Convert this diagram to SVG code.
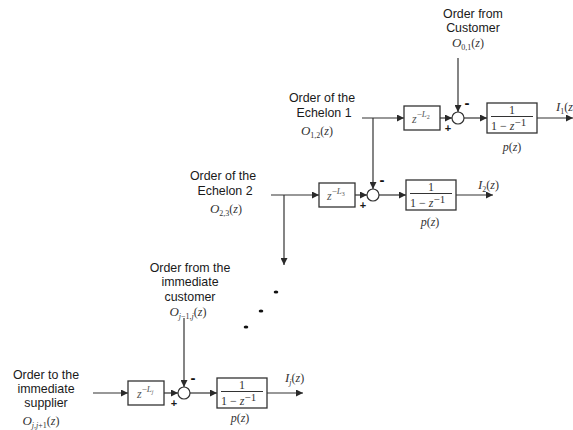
<svg xmlns="http://www.w3.org/2000/svg" width="573" height="430" viewBox="0 0 573 430">
  <defs>
    <marker id="arr" markerUnits="userSpaceOnUse" markerWidth="8" markerHeight="7" refX="7" refY="3.5" orient="auto">
      <path d="M0,0 L7,3.5 L0,7 z" fill="#2a2a2a"/>
    </marker>
    <style>
      .lbl { font-family: "Liberation Sans", Arial, sans-serif; font-size: 12.4px; fill: #1a1a1a; text-anchor: middle; }
      .m { font-family: "Liberation Serif", "Times New Roman", serif; font-size: 12px; fill: #333; }
      .it { font-style: italic; }
      .sub { font-size: 8px; }
      .box { fill: #fff; stroke: #333; stroke-width: 1.3; }
      .ln { stroke: #333; stroke-width: 1.2; fill: none; }
      .bar { stroke: #333; stroke-width: 1; }
      .sum { fill: #fff; stroke: #333; stroke-width: 1.2; }
      .minus { font-family: "Liberation Sans", Arial, sans-serif; font-weight: bold; font-size: 15px; fill: #111; text-anchor: middle; }
      .plus { font-family: "Liberation Sans", Arial, sans-serif; font-weight: bold; font-size: 11px; fill: #1a1a1a; text-anchor: middle; }
      .dly { font-family: "Liberation Serif", "Times New Roman", serif; font-size: 12px; fill: #555; }
      .dot { fill: #111; }
    </style>
  </defs>

  <!-- signal lines -->
  <g id="connectors">
    <!-- stage 1 -->
    <path class="ln" d="M458,58 V112" marker-end="url(#arr)"/>
    <path class="ln" d="M362,118 H404" marker-end="url(#arr)"/>
    <path class="ln" d="M440,118 H452" marker-end="url(#arr)"/>
    <path class="ln" d="M464,118 H487" marker-end="url(#arr)"/>
    <path class="ln" d="M537,118 H573" marker-end="url(#arr)"/>
    <path class="ln" d="M373,118 V189" marker-end="url(#arr)"/>
    <!-- stage 2 -->
    <path class="ln" d="M271,195 H319" marker-end="url(#arr)"/>
    <path class="ln" d="M355,195 H367" marker-end="url(#arr)"/>
    <path class="ln" d="M379,195 H406" marker-end="url(#arr)"/>
    <path class="ln" d="M456,195 H493" marker-end="url(#arr)"/>
    <path class="ln" d="M284,195 V265" marker-end="url(#arr)"/>
    <!-- stage j -->
    <path class="ln" d="M184,318 V387" marker-end="url(#arr)"/>
    <path class="ln" d="M93,393 H128" marker-end="url(#arr)"/>
    <path class="ln" d="M164,393 H178" marker-end="url(#arr)"/>
    <path class="ln" d="M190,393 H217" marker-end="url(#arr)"/>
    <path class="ln" d="M267,393 H303" marker-end="url(#arr)"/>
  </g>

  <!-- continuation dots -->
  <g id="ellipsis">
    <ellipse class="dot" cx="276" cy="292" rx="2.3" ry="1.5"/>
    <ellipse class="dot" cx="261" cy="311" rx="2.3" ry="1.5"/>
    <ellipse class="dot" cx="246" cy="327" rx="2.3" ry="1.5"/>
  </g>

  <!-- ===== stage 1 ===== -->
  <g id="customer-order">
    <text class="lbl" x="473" y="18">Order from</text>
    <text class="lbl" x="473" y="32">Customer</text>
    <text class="m" x="468" y="47" text-anchor="middle"><tspan class="it" font-size="13">O</tspan><tspan class="sub" dy="3">0,1</tspan><tspan dy="-3">(</tspan><tspan class="it">z</tspan>)</text>
  </g>

  <g id="echelon1-order">
    <text class="lbl" x="322" y="101.5">Order of the</text>
    <text class="lbl" x="324" y="116.5">Echelon 1</text>
    <text class="m" x="317" y="135" text-anchor="middle"><tspan class="it" font-size="13">O</tspan><tspan class="sub" dy="3">1,2</tspan><tspan dy="-3">(</tspan><tspan class="it">z</tspan>)</text>
  </g>

  <g id="delay-1">
    <rect class="box" x="404" y="106" width="36" height="24"/>
    <text class="dly" x="412" y="123"><tspan class="it">z</tspan><tspan font-size="9" dy="-6">−</tspan><tspan class="it" font-size="9">L</tspan><tspan font-size="6" dy="2">2</tspan></text>
  </g>

  <g id="sum-1">
    <circle class="sum" cx="458" cy="118" r="6"/>
    <text class="minus" x="467" y="108">-</text>
    <text class="plus" x="448" y="132">+</text>
  </g>

  <g id="inventory-1">
    <rect class="box" x="487" y="103" width="50" height="30"/>
    <text class="m" x="512" y="114" text-anchor="middle">1</text>
    <line class="bar" x1="491" y1="116.5" x2="533" y2="116.5"/>
    <text class="m" x="491" y="130">1 − <tspan class="it">z</tspan><tspan font-size="11" dy="-4">−1</tspan></text>
    <text class="m" x="512" y="151" text-anchor="middle"><tspan class="it">p</tspan>(<tspan class="it">z</tspan>)</text>
  </g>

  <g id="output-1">
    <text class="m" x="556" y="111"><tspan class="it" font-size="13">I</tspan><tspan class="sub" dy="3">1</tspan><tspan dy="-3">(</tspan><tspan class="it">z</tspan></text>
  </g>

  <!-- ===== stage 2 ===== -->
  <g id="echelon2-order">
    <text class="lbl" x="223" y="179.5">Order of the</text>
    <text class="lbl" x="225" y="194.5">Echelon 2</text>
    <text class="m" x="226" y="213" text-anchor="middle"><tspan class="it" font-size="13">O</tspan><tspan class="sub" dy="3">2,3</tspan><tspan dy="-3">(</tspan><tspan class="it">z</tspan>)</text>
  </g>

  <g id="delay-2">
    <rect class="box" x="319" y="183" width="36" height="24"/>
    <text class="dly" x="327" y="200"><tspan class="it">z</tspan><tspan font-size="9" dy="-6">−</tspan><tspan class="it" font-size="9">L</tspan><tspan font-size="6" dy="2">3</tspan></text>
  </g>

  <g id="sum-2">
    <circle class="sum" cx="373" cy="195" r="6"/>
    <text class="minus" x="382" y="185">-</text>
    <text class="plus" x="363" y="209">+</text>
  </g>

  <g id="inventory-2">
    <rect class="box" x="406" y="180" width="50" height="30"/>
    <text class="m" x="431" y="191" text-anchor="middle">1</text>
    <line class="bar" x1="410" y1="193.5" x2="452" y2="193.5"/>
    <text class="m" x="410" y="207">1 − <tspan class="it">z</tspan><tspan font-size="11" dy="-4">−1</tspan></text>
    <text class="m" x="430" y="226" text-anchor="middle"><tspan class="it">p</tspan>(<tspan class="it">z</tspan>)</text>
  </g>

  <g id="output-2">
    <text class="m" x="478" y="189"><tspan class="it" font-size="13">I</tspan><tspan class="sub" dy="3">2</tspan><tspan dy="-3">(</tspan><tspan class="it">z</tspan>)</text>
  </g>

  <!-- ===== stage j ===== -->
  <g id="customer-j-order">
    <text class="lbl" x="190" y="271.5">Order from the</text>
    <text class="lbl" x="190" y="286">immediate</text>
    <text class="lbl" x="190" y="300.5">customer</text>
    <text class="m" x="188" y="316" text-anchor="middle"><tspan class="it" font-size="13">O</tspan><tspan class="sub" dy="3"><tspan class="it">j</tspan>−1,<tspan class="it">j</tspan></tspan><tspan dy="-3">(</tspan><tspan class="it">z</tspan>)</text>
  </g>

  <g id="supplier-j-order">
    <text class="lbl" x="46" y="379">Order to the</text>
    <text class="lbl" x="46" y="393">immediate</text>
    <text class="lbl" x="46" y="407">supplier</text>
    <text class="m" x="41" y="425" text-anchor="middle"><tspan class="it" font-size="13">O</tspan><tspan class="sub" dy="3"><tspan class="it">j</tspan>,<tspan class="it">j</tspan>+1</tspan><tspan dy="-3">(</tspan><tspan class="it">z</tspan>)</text>
  </g>

  <g id="delay-j">
    <rect class="box" x="128" y="381" width="36" height="24"/>
    <text class="dly" x="137" y="398"><tspan class="it">z</tspan><tspan font-size="9" dy="-6">−</tspan><tspan class="it" font-size="9">L</tspan><tspan class="it" font-size="6" dy="2">j</tspan></text>
  </g>

  <g id="sum-j">
    <circle class="sum" cx="184" cy="393" r="6"/>
    <text class="minus" x="193" y="383">-</text>
    <text class="plus" x="174" y="407">+</text>
  </g>

  <g id="inventory-j">
    <rect class="box" x="217" y="378" width="50" height="30"/>
    <text class="m" x="242" y="389" text-anchor="middle">1</text>
    <line class="bar" x1="221" y1="391.5" x2="263" y2="391.5"/>
    <text class="m" x="221" y="405">1 − <tspan class="it">z</tspan><tspan font-size="11" dy="-4">−1</tspan></text>
    <text class="m" x="240" y="422" text-anchor="middle"><tspan class="it">p</tspan>(<tspan class="it">z</tspan>)</text>
  </g>

  <g id="output-j">
    <text class="m" x="285" y="382"><tspan class="it" font-size="13">I</tspan><tspan class="sub it" dy="3">j</tspan><tspan dy="-3">(</tspan><tspan class="it">z</tspan>)</text>
  </g>
</svg>
